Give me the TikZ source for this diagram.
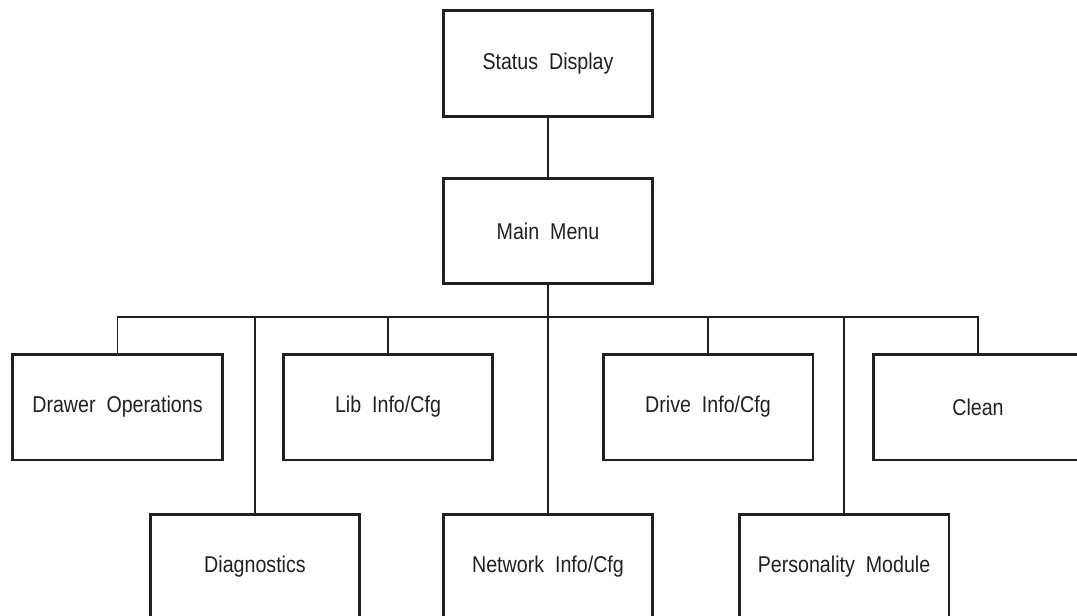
\documentclass[tikz,border=0pt]{standalone}
\usepackage{fontspec}
\setmainfont{Liberation Sans}[FakeStretch=0.86]
\usepackage{tikz}
\usetikzlibrary{calc}
\definecolor{ink}{HTML}{231F20}

\tikzset{
  menubox/.style={draw=ink, line width=1.7pt, minimum width=4.2cm, minimum height=2.12cm,
    inner sep=0pt, font=\fontsize{13}{15}\selectfont, text=ink},
  link/.style={draw=ink, line width=0.6pt}
}

\begin{document}
\begin{tikzpicture}[x=0.02cm,y=-0.02cm]
		\useasboundingbox (0,0) rectangle (1077,615);
		\clip (0,0) rectangle (1077,615);
		\node[menubox] (status) at (548,63.5) {Status~~Display};
		\node[menubox] (main) at (548,231) {Main~~Menu};
		\coordinate (bus) at (548,317);
		% upper row
		\node[menubox] (drawer) at (117.5,407) {Drawer~~Operations};
		\node[menubox] (lib) at (388,407) {Lib~~Info/Cfg};
		\node[menubox] (drive) at (708,407) {Drive~~Info/Cfg};
		\node[menubox] (clean) at (978,407) {Clean};
		% lower row
		\node[menubox] (diag) at (255,567) {Diagnostics};
		\node[menubox] (net) at (548,567) {Network~~Info/Cfg};
		\node[menubox] (pers) at (844,567) {Personality~~Module};
		\draw[link] (status) -- (main)
		(main) -- (net)
		(drawer.north) |- (bus)
		(lib.north) |- (bus)
		(diag.north) |- (bus)
		(drive.north) |- (bus)
		(pers.north) |- (bus)
		(clean.north) |- (bus);
	\end{tikzpicture}
\end{document}
